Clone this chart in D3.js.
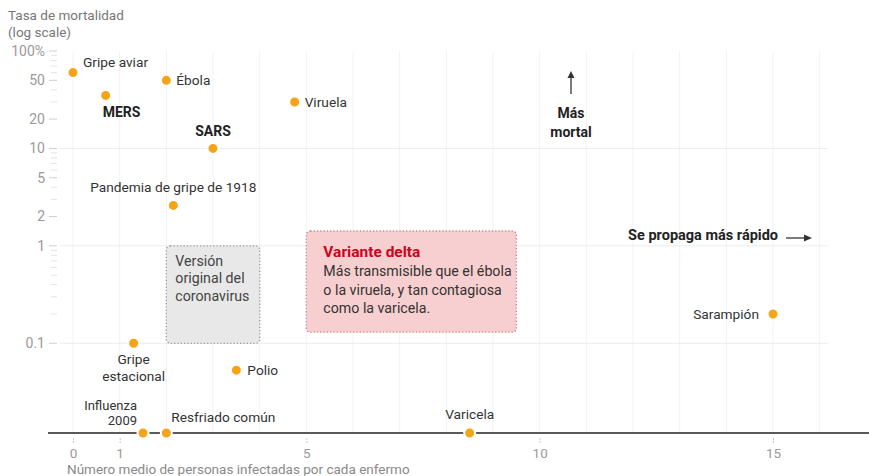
<!DOCTYPE html>
<html>
<head>
<meta charset="utf-8">
<script src="https://cdn.jsdelivr.net/npm/d3@7"></script>
<style>
  html, body { margin: 0; padding: 0; background: #fff; }
  svg { display: block; font-family: Roboto, "Liberation Sans", sans-serif; }
</style>
</head>
<body>
<svg id="chart" width="869" height="476"></svg>
<script>
// ---------- data ----------
const diseases = ["Gripe aviar", "MERS", "Ébola", "Viruela", "SARS", "Pandemia de gripe de 1918",
                  "Gripe estacional", "Polio", "Sarampión", "Influenza 2009", "Resfriado común", "Varicela"];
const r0Values = [0, 0.7, 2, 4.75, 3, 2.15, 1.3, 3.5, 15, 1.5, 2, 8.5];
// mortality in %, null = plotted on the baseline
const mortality = [60, 35, 50, 30, 10, 2.6, 0.1, 0.053, 0.2, null, null, null];

const xTicks = [0, 1, 5, 10, 15];
const yTickValues = [100, 50, 20, 10, 5, 2, 1, 0.1];
const yTickLabels = ["100%", "50", "20", "10", "5", "2", "1", "0.1"];
const yGridValues = [10, 1, 0.1];

const originalBox = { x: [2, 4], y: [0.1, 1] };
const deltaBox = { x: [5, 9.5], y: [0.13, 1.42] };

// ---------- layout ----------
const svg = d3.select("#chart");
const x = d3.scaleLinear().domain([0, 15]).range([73, 773]);
const y = d3.scaleLog().domain([0.012, 100]).range([433, 51]);
const baseY = y.range()[0];
const yOf = v => v == null ? baseY : y(v);

const textColor = "#333";
const dotColor = "#F5A418";

// vertical grid lines each unit
const gridX = d3.range(0, 17);
svg.append("g").selectAll("line").data(gridX).join("line")
  .attr("x1", d => x(d)).attr("x2", d => x(d))
  .attr("y1", y(100)).attr("y2", baseY)
  .attr("stroke", "#f2f2f2").attr("stroke-width", 1);

// horizontal grid lines
svg.append("g").selectAll("line").data(yGridValues).join("line")
  .attr("x1", 60).attr("x2", 828)
  .attr("y1", d => y(d)).attr("y2", d => y(d))
  .attr("stroke", "#ececec").attr("stroke-width", 1);

// y minor ticks
const minor = [];
[0.1, 1, 10].forEach(b => { for (let k = 2; k <= 9; k++) minor.push(b * k); });
svg.append("g").selectAll("line").data(minor.filter(v => !yTickValues.includes(+v.toPrecision(3)))).join("line")
  .attr("x1", 51).attr("x2", 57)
  .attr("y1", d => y(d)).attr("y2", d => y(d))
  .attr("stroke", "#e3e3e3").attr("stroke-width", 1);

// y major ticks + labels
const yAxisG = svg.append("g");
yAxisG.selectAll("line").data(yTickValues).join("line")
  .attr("x1", 49).attr("x2", 57)
  .attr("y1", d => y(d)).attr("y2", d => y(d))
  .attr("stroke", "#cfcfcf").attr("stroke-width", 1);
yAxisG.selectAll("text").data(yTickValues).join("text")
  .attr("x", 45).attr("y", d => y(d)).attr("dy", "0.35em")
  .attr("text-anchor", "end")
  .attr("font-size", 14).attr("fill", "#9a9a9a")
  .text((d, i) => yTickLabels[i]);

// y axis title
svg.append("text").attr("x", 8).attr("y", 20).attr("font-size", 13.5).attr("fill", "#777").text("Tasa de mortalidad");
svg.append("text").attr("x", 8).attr("y", 37).attr("font-size", 13.5).attr("fill", "#777").text("(log scale)");

// x axis
const xAxisG = svg.append("g").attr("transform", `translate(0,${baseY})`)
  .call(d3.axisBottom(x).tickValues(xTicks).tickSize(0).tickPadding(15).tickFormat(d3.format("d")));
xAxisG.select(".domain").remove();
xAxisG.selectAll("text").attr("font-size", 13.5).attr("fill", "#9a9a9a").attr("font-family", "Roboto, sans-serif");
xAxisG.selectAll(".tick").append("line")
  .attr("y1", 5).attr("y2", 10).attr("stroke", "#c8c8c8").attr("stroke-dasharray", "2,1");
svg.append("line").attr("x1", 48).attr("x2", 869).attr("y1", baseY).attr("y2", baseY)
  .attr("stroke", "#5a5a5a").attr("stroke-width", 2);
svg.append("text").attr("x", 67).attr("y", 474).attr("font-size", 13.5).attr("fill", "#8a8a8a")
  .text("Número medio de personas infectadas por cada enfermo");

// annotation boxes
svg.append("rect")
  .attr("x", x(originalBox.x[0])).attr("y", y(originalBox.y[1]))
  .attr("width", x(originalBox.x[1]) - x(originalBox.x[0]))
  .attr("height", y(originalBox.y[0]) - y(originalBox.y[1]))
  .attr("rx", 4).attr("fill", "#e8e8e8")
  .attr("stroke", "#9a9a9a").attr("stroke-width", 1.3).attr("stroke-dasharray", "1.3,2");
const ob = svg.append("text").attr("font-size", 14.2).attr("fill", "#444");
["Versión", "original del", "coronavirus"].forEach((t, i) =>
  ob.append("tspan").attr("x", x(originalBox.x[0]) + 9).attr("y", y(originalBox.y[1]) + 20 + i * 17.5).text(t));

svg.append("rect")
  .attr("x", x(deltaBox.x[0])).attr("y", y(deltaBox.y[1]))
  .attr("width", x(deltaBox.x[1]) - x(deltaBox.x[0]))
  .attr("height", y(deltaBox.y[0]) - y(deltaBox.y[1]))
  .attr("rx", 4).attr("fill", "#f8cfd0")
  .attr("stroke", "#d98080").attr("stroke-width", 1.3).attr("stroke-dasharray", "1.3,2");
svg.append("text").attr("x", x(deltaBox.x[0]) + 17).attr("y", y(deltaBox.y[1]) + 26)
  .attr("font-size", 15.5).attr("font-weight", 700).attr("fill", "#d0021b").text("Variante delta");
const db = svg.append("text").attr("font-size", 14.2).attr("fill", "#333");
["Más transmisible que el ébola", "o la viruela, y tan contagiosa", "como la varicela."].forEach((t, i) =>
  db.append("tspan").attr("x", x(deltaBox.x[0]) + 17).attr("y", y(deltaBox.y[1]) + 45 + i * 18.5).text(t));

// direction annotations
const ax = 571;
svg.append("line").attr("x1", ax).attr("x2", ax).attr("y1", 94).attr("y2", 76)
  .attr("stroke", "#333").attr("stroke-width", 1.3);
svg.append("path").attr("d", `M${ax - 3.5},${78} L${ax},${71} L${ax + 3.5},${78} Z`).attr("fill", "#333");
const mm = svg.append("text").attr("font-size", 14).attr("font-weight", 700).attr("fill", "#222").attr("text-anchor", "middle");
mm.append("tspan").attr("x", ax).attr("y", 118).text("Más");
mm.append("tspan").attr("x", ax).attr("y", 137).text("mortal");

svg.append("text").attr("x", 778).attr("y", 240).attr("text-anchor", "end")
  .attr("font-size", 14.5).attr("font-weight", 700).attr("fill", "#222").text("Se propaga más rápido");
svg.append("line").attr("x1", 786).attr("x2", 806).attr("y1", 238).attr("y2", 238)
  .attr("stroke", "#333").attr("stroke-width", 1.3);
svg.append("path").attr("d", "M804,234.5 L812,238 L804,241.5 Z").attr("fill", "#333");

// points
const pts = diseases.map((name, i) => ({ name, cx: x(r0Values[i]), cy: yOf(mortality[i]) }));
svg.append("g").selectAll("circle").data(pts).join("circle")
  .attr("cx", d => d.cx).attr("cy", d => d.cy).attr("r", 5.5)
  .attr("fill", dotColor).attr("stroke", "#fff").attr("stroke-width", 2);

// labels (offsets relative to each point)
const labelStyle = {
  "Gripe aviar": { dx: 10, dy: -10, anchor: "start" },
  "MERS": { dx: -3, dy: 17, anchor: "start", bold: true },
  "Ébola": { dx: 10, dy: 0, anchor: "start" },
  "Viruela": { dx: 10, dy: 0, anchor: "start" },
  "SARS": { dx: 0, dy: -17, anchor: "middle", bold: true },
  "Pandemia de gripe de 1918": { dx: 0, dy: -18, anchor: "middle" },
  "Gripe estacional": { dx: 0, dy: 16, anchor: "middle", lines: ["Gripe", "estacional"], lh: 17 },
  "Polio": { dx: 11, dy: 0, anchor: "start" },
  "Sarampión": { dx: -14, dy: 0, anchor: "end" },
  "Influenza 2009": { dx: -6, dy: -28, anchor: "end", lines: ["Influenza", "2009"], lh: 15, size: 13 },
  "Resfriado común": { dx: 5, dy: -16, anchor: "start" },
  "Varicela": { dx: 0, dy: -19, anchor: "middle" }
};
const lg = svg.append("g");
pts.forEach(p => {
  const s = labelStyle[p.name];
  const lines = s.lines || [p.name];
  lines.forEach((ln, i) => lg.append("text")
    .attr("text-anchor", s.anchor)
    .attr("font-size", s.size || (s.bold ? 14 : 13.7))
    .attr("font-weight", s.bold ? 700 : 400)
    .attr("fill", s.bold ? "#222" : textColor)
    .attr("x", p.cx + s.dx).attr("y", p.cy + s.dy + i * (s.lh || 0)).attr("dy", "0.35em").text(ln));
});
</script>
</body>
</html>
